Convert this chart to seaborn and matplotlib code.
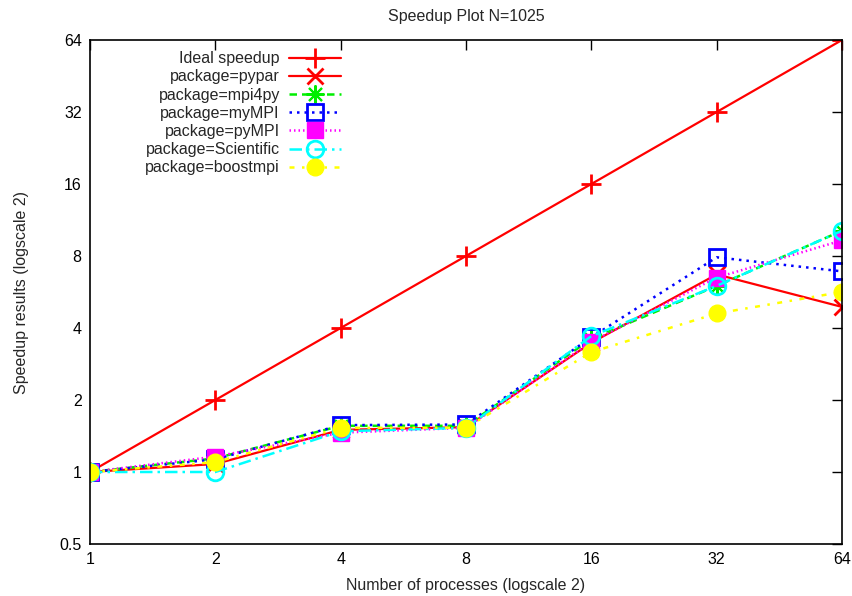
import matplotlib
matplotlib.use("Agg")
import matplotlib.pyplot as plt
import seaborn as sns
import pandas as pd
from matplotlib.ticker import FixedLocator, FixedFormatter, NullLocator

procs = [1, 2, 4, 8, 16, 32, 64]
ideal = [1, 2, 4, 8, 16, 32, 64]
pypar = [1.0, 1.08, 1.50, 1.54, 3.47, 6.7, 4.9]
mpi4py = [1.0, 1.14, 1.56, 1.56, 3.6, 6.0, 10.2]
mympi = [1.0, 1.13, 1.57, 1.58, 3.66, 7.9, 6.9]
pympi = [1.0, 1.16, 1.46, 1.53, 3.5, 6.5, 9.3]
scientific = [1.0, 1.0, 1.48, 1.53, 3.7, 6.0, 10.2]
boostmpi = [1.0, 1.10, 1.53, 1.53, 3.17, 4.6, 5.66]

labels = ["Ideal speedup", "package=pypar", "package=mpi4py", "package=myMPI",
          "package=pyMPI", "package=Scientific", "package=boostmpi"]
series = [ideal, pypar, mpi4py, mympi, pympi, scientific, boostmpi]

yticks = [0.5, 1, 2, 4, 8, 16, 32, 64]
ytick_labels = ["0.5", "1", "2", "4", "8", "16", "32", "64"]
xtick_labels = ["1", "2", "4", "8", "16", "32", "64"]

sns.set_style("white")
plt.rcParams['font.family'] = ['Liberation Sans', 'DejaVu Sans']
FS = 11.5

styles = [
    dict(color="#ff0000", marker="+", linestyle="-", ms=14, mew=2, mfc="#ff0000"),
    dict(color="#ff0000", marker="x", linestyle="-", ms=11, mew=2, mfc="#ff0000"),
    dict(color="#00ee00", marker=(8, 2, 0), linestyle=(0, (3, 2)), ms=13, mew=1.5, mfc="none"),
    dict(color="#0000ff", marker="s", linestyle=(0, (1, 2)), ms=11, mew=2, mfc="none"),
    dict(color="#ff00ff", marker="s", linestyle=(0, (0.6, 1.2)), ms=11, mew=1, mfc="#ff00ff"),
    dict(color="#00ffff", marker="o", linestyle=(0, (5, 2, 1, 2)), ms=12, mew=2, mfc="none"),
    dict(color="#ffff00", marker="o", linestyle=(0, (2, 3, 1, 3)), ms=12, mew=1, mfc="#ffff00"),
]

frames = []
for lab, vals in zip(labels, series):
    frames.append(pd.DataFrame({"procs": procs, "speedup": vals, "series": lab}))
df = pd.concat(frames, ignore_index=True)

fig = plt.figure(figsize=(8.52, 5.96), dpi=100)
ax = fig.add_axes([90/852, 52/596, 752/852, 504/596])

for lab, st in zip(labels, styles):
    sub = df[df["series"] == lab]
    sns.lineplot(data=sub, x="procs", y="speedup", ax=ax, label=lab,
                 color=st["color"], marker=st["marker"], linestyle=st["linestyle"],
                 markersize=st["ms"], markeredgewidth=st["mew"],
                 markerfacecolor=st["mfc"], markeredgecolor=st["color"],
                 linewidth=1.6 if st["linestyle"] == "-" else 1.8)

ax.set_xscale("log", base=2)
ax.set_yscale("log", base=2)
ax.set_xlim(1, 64)
ax.set_ylim(0.5, 64)
ax.xaxis.set_major_locator(FixedLocator(procs))
ax.xaxis.set_major_formatter(FixedFormatter(xtick_labels))
ax.yaxis.set_major_locator(FixedLocator(yticks))
ax.yaxis.set_major_formatter(FixedFormatter(ytick_labels))
ax.xaxis.set_minor_locator(NullLocator())
ax.yaxis.set_minor_locator(NullLocator())
ax.tick_params(direction="in", length=7, width=1, top=True, right=True,
               labelsize=FS, colors="black", pad=6)
for sp in ax.spines.values():
    sp.set_visible(True)
    sp.set_color("black")
    sp.set_linewidth(1.2)

ax.set_xlabel("Number of processes (logscale 2)", fontsize=FS, labelpad=8)
ax.set_ylabel("Speedup results (logscale 2)", fontsize=FS, labelpad=22)
ax.set_title("Speedup Plot N=1025", fontsize=FS, pad=14)

leg = ax.legend(loc="upper right", bbox_to_anchor=(0.348, 1.0), frameon=False,
                markerfirst=False, handlelength=3.2, labelspacing=0.2,
                fontsize=FS, borderpad=0.2, handletextpad=0.6)

fig.savefig("out.png", dpi=100)
